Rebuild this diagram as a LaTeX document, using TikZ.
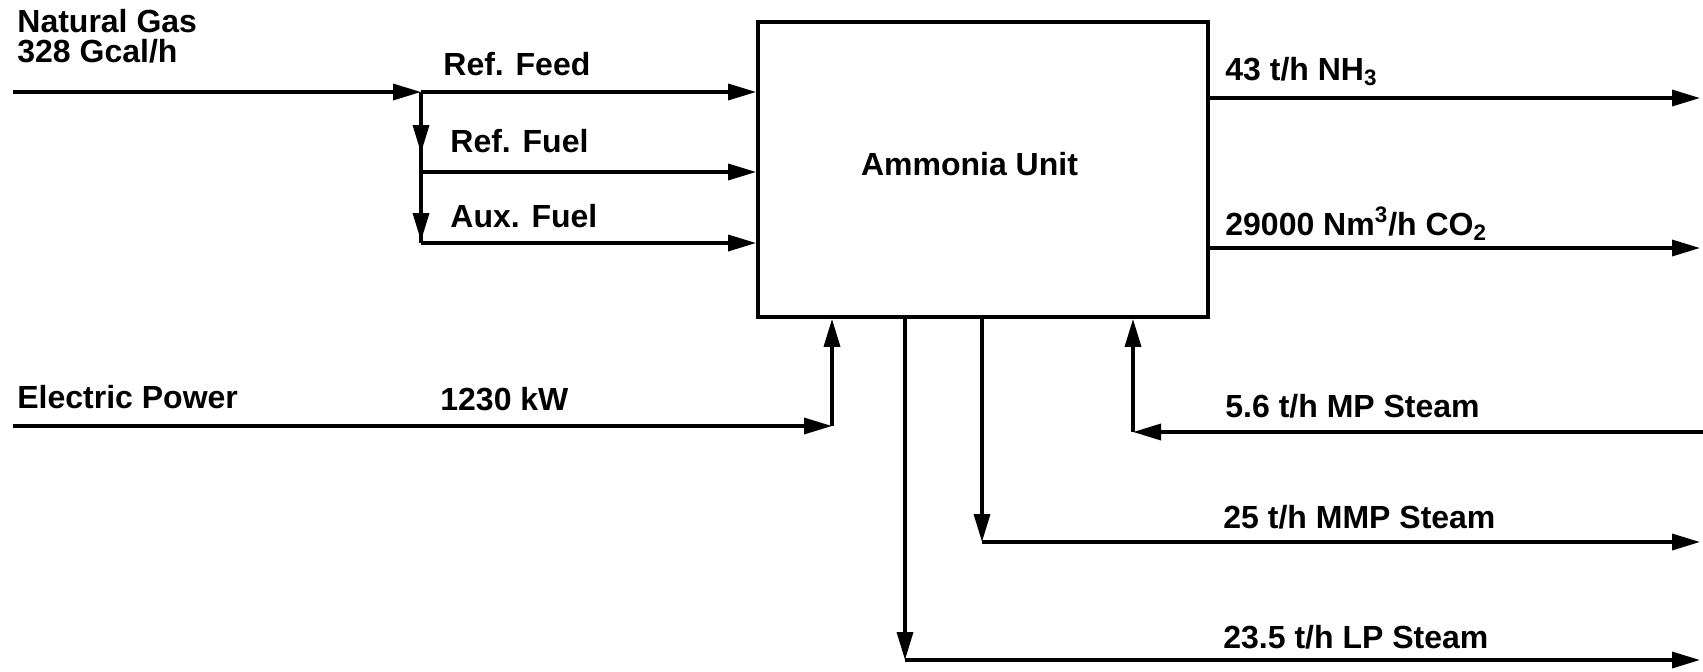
\documentclass[tikz,border=0pt]{standalone}
\usepackage{fontspec}
\setmainfont{Liberation Sans}
\usetikzlibrary{arrows.meta,calc}
\begin{document}
\begin{tikzpicture}[x=0.5pt,y=-0.5pt,
  lbl/.style={anchor=base west, inner sep=0pt, font=\fontsize{16}{19}\selectfont\bfseries},
  flow/.style={line width=1.7pt, -{Triangle[length=14pt,width=8pt]}},
  pipe/.style={line width=1.7pt},
  unitbox/.style={draw, line width=1.9pt, minimum width=225pt, minimum height=147.5pt, inner sep=0pt}]
\useasboundingbox (0,0) rectangle (1703,671);
\node[unitbox] (unit) at (983,169.5) {};
\node[lbl, anchor=base] (unitlabel) at (969.5,175) {Ammonia Unit};

% natural gas feed
\coordinate (ngin) at (13,92);
\coordinate (J) at (421,92);
\coordinate (F1) at (421,172);
\coordinate (F2) at (421,243);
\draw[flow] (ngin) -- (J);
\draw[flow] (J) -- (J -| unit.west);
\draw[pipe] (J) -- (F2);
\draw[flow, shorten >=9.5pt] (J) -- (F1);
\draw[flow, shorten >=1pt] (F1) -- (F2);
\draw[flow] (F1) -- (F1 -| unit.west);
\draw[flow] (F2) -- (F2 -| unit.west);

\node[lbl] (ng) at (17,32) {Natural Gas};
\node[lbl] (ngq) at (17,62) {328 Gcal/h};
\node[lbl] (rfeed) at (443,75) {Ref. Feed};
\node[lbl] (rfuel) at (450,152) {Ref. Fuel};
\node[lbl] (afuel) at (450,227) {Aux. Fuel};

% products
\coordinate (nh3) at (1700,98);
\coordinate (co2) at (1700,248);
\draw[flow] (nh3 -| unit.east) -- (nh3);
\draw[flow] (co2 -| unit.east) -- (co2);
\node[lbl] (nh3l) at (1225,80) {43 t/h NH\textsubscript{3}};
\node[lbl] (co2l) at (1225,235) {29000 Nm\textsuperscript{3}/h CO\textsubscript{2}};

% electric power
\coordinate (epin) at (13,426);
\coordinate (E) at (832,426);
\draw[flow] (epin) -- (E);
\draw[flow] (E) -- (E |- unit.south);
\node[lbl] (epl) at (17,408) {Electric Power};
\node[lbl] (kw) at (440,410) {1230 kW};

% MP steam import
\coordinate (mpin) at (1703,432);
\coordinate (M) at (1133,432);
\draw[flow] (mpin) -- (M);
\draw[flow] (M) -- (M |- unit.south);
\node[lbl] (mpl) at (1225,417) {5.6 t/h MP Steam};

% MMP steam export
\coordinate (D1) at (982,542);
\coordinate (mmp) at (1700,542);
\draw[flow] (D1 |- unit.south) -- (D1);
\draw[flow] (D1) -- (mmp);
\node[lbl] (mmpl) at (1223,528) {25 t/h MMP Steam};

% LP steam export
\coordinate (D2) at (905,660);
\coordinate (lp) at (1700,660);
\draw[flow] (D2 |- unit.south) -- (D2);
\draw[flow] (D2) -- (lp);
\node[lbl] (lpl) at (1223,648) {23.5 t/h LP Steam};
\end{tikzpicture}
\end{document}
